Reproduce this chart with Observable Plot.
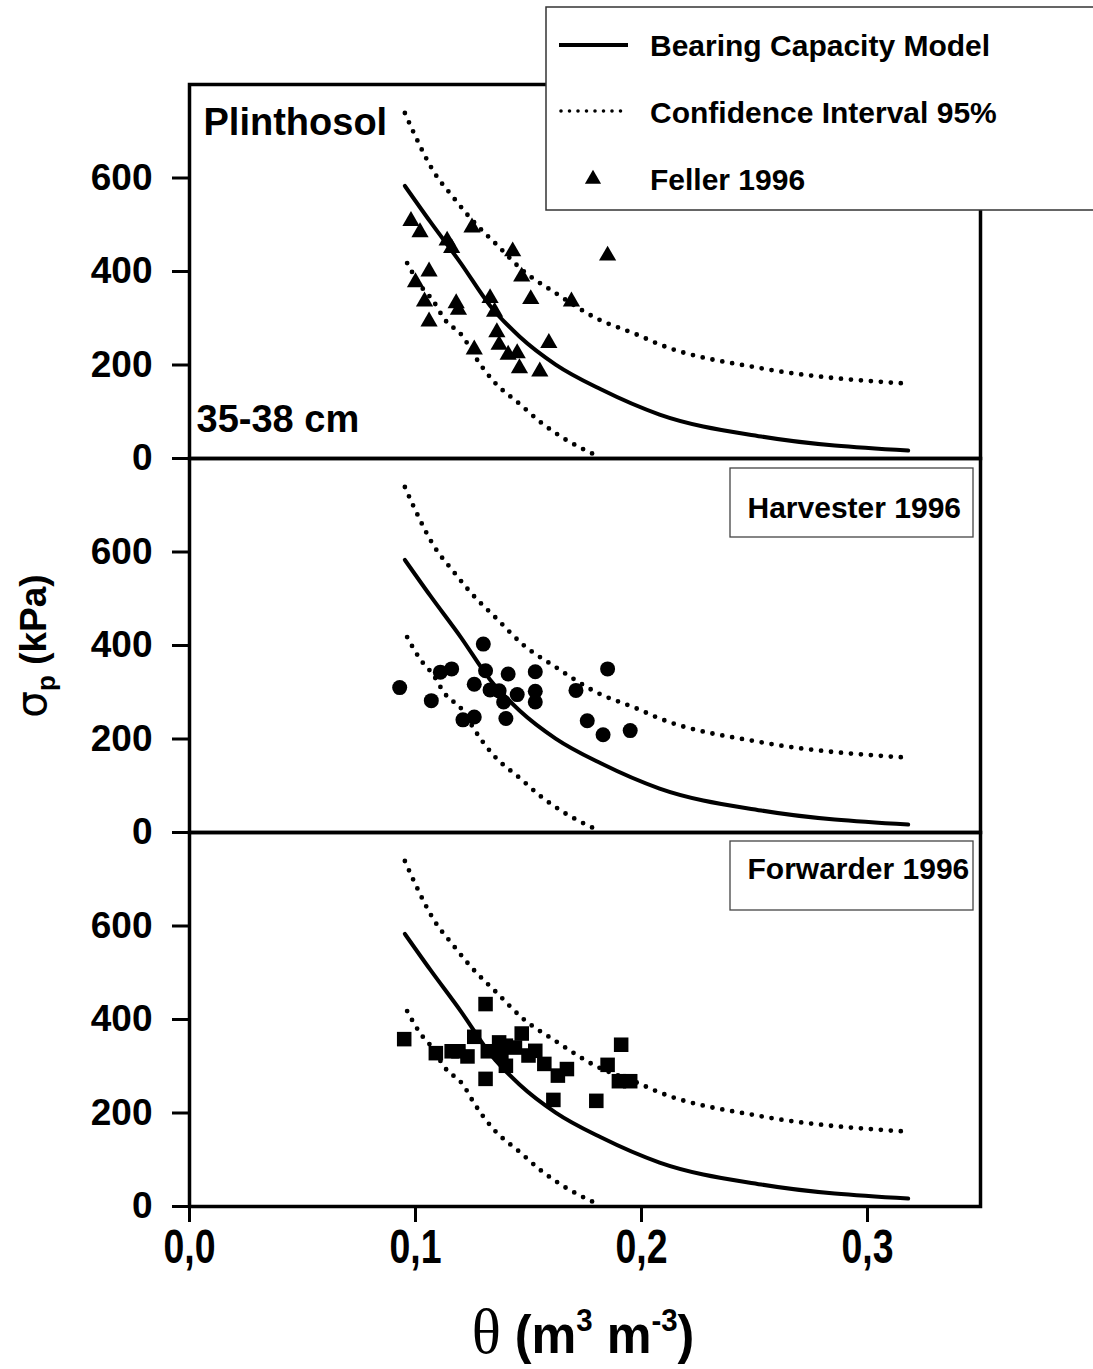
<!DOCTYPE html>
<html>
<head>
<meta charset="utf-8">
<script src="https://cdn.jsdelivr.net/npm/d3@7"></script>
<script src="https://cdn.jsdelivr.net/npm/@observablehq/plot@0.6"></script>
<style>
  body { margin: 0; background: #fff; }
  #fig { position: relative; width: 1093px; height: 1369px; }
</style>
</head>
<body>
<div id="fig"></div>
<script>
// Panels (one per traffic event), top to bottom
const panels = ["Feller 1996", "Harvester 1996", "Forwarder 1996"];

// Bearing capacity model: water content (m3 m-3) vs precompression stress (kPa)
const modelTheta = [0.0953, 0.1066, 0.12, 0.133, 0.146, 0.162, 0.182, 0.208, 0.253, 0.318];
const modelSigma = [583, 506, 418, 327, 261, 201, 148, 94, 47, 17];

// 95% confidence bounds
const upperTheta = [0.0953, 0.0993, 0.108, 0.117, 0.1243, 0.136, 0.148, 0.161, 0.180, 0.198, 0.208, 0.253, 0.318];
const upperSigma = [739, 696, 614, 557, 514, 457, 400, 357, 300, 265, 244, 193, 160];
const lowerTheta = [0.0963, 0.102, 0.108, 0.1125, 0.1214, 0.1258, 0.1344, 0.1465, 0.155, 0.1656, 0.1785];
const lowerSigma = [418, 371, 336, 300, 258, 222, 166, 115, 79, 43, 10];

// Measured samples after each machine pass
const fellerTheta = [0.098, 0.102, 0.114, 0.116, 0.125, 0.143, 0.185, 0.106, 0.100, 0.147, 0.104, 0.118, 0.119,
                     0.133, 0.135, 0.151, 0.169, 0.106, 0.136, 0.137, 0.159, 0.126, 0.141, 0.145, 0.146, 0.155];
const fellerSigma = [508, 484, 466, 450, 494, 443, 434, 400, 377, 389, 336, 332, 318,
                     343, 314, 341, 336, 293, 270, 243, 247, 233, 222, 225, 193, 186];

const harvesterTheta = [0.093, 0.107, 0.111, 0.116, 0.130, 0.131, 0.126, 0.133, 0.137, 0.139, 0.145, 0.141,
                        0.153, 0.153, 0.153, 0.140, 0.121, 0.126, 0.171, 0.185, 0.176, 0.183, 0.195];
const harvesterSigma = [310, 282, 343, 350, 403, 346, 317, 305, 303, 279, 295, 339,
                        344, 302, 279, 244, 241, 247, 304, 350, 239, 209, 218];

const forwarderTheta = [0.095, 0.109, 0.116, 0.119, 0.123, 0.126, 0.131, 0.132, 0.137, 0.140, 0.144, 0.138, 0.140,
                        0.147, 0.150, 0.153, 0.157, 0.163, 0.167, 0.131, 0.161, 0.180, 0.185, 0.191, 0.190, 0.195];
const forwarderSigma = [358, 328, 332, 332, 321, 363, 433, 332, 351, 344, 340, 326, 301,
                        370, 323, 333, 305, 280, 294, 273, 228, 226, 303, 346, 268, 268];

// Axis ticks
const xTicks = [0, 0.1, 0.2, 0.3];
const yTicks = [0, 200, 400, 600];

// Legend entries
const legendLabels = ["Bearing Capacity Model", "Confidence Interval 95%", "Feller 1996"];

const zip = (xs, ys, panel) => xs.map((t, i) => ({theta: t, sigma: ys[i], panel}));
const model = zip(modelTheta, modelSigma);
const upper = zip(upperTheta, upperSigma);
const lower = zip(lowerTheta, lowerSigma);
const feller = zip(fellerTheta, fellerSigma, panels[0]);
const harvester = zip(harvesterTheta, harvesterSigma, panels[1]);
const forwarder = zip(forwarderTheta, forwarderSigma, panels[2]);

const SANS = "'Liberation Sans', Arial, Helvetica, sans-serif";
const DOTS = "0 10";
const DOT_W = 4.8;
const dotted = {stroke: "black", strokeWidth: DOT_W, strokeDasharray: DOTS, strokeLinecap: "round", curve: "monotone-x"};
const tag = {fontWeight: "bold", lineAnchor: "middle"};

const plot = Plot.plot({
  width: 1093,
  height: 1369,
  marginTop: 83,
  marginBottom: 163,
  marginLeft: 189,
  marginRight: 113,
  style: {fontFamily: SANS, fontWeight: "bold", color: "black", background: "white"},
  x: {domain: [0, 0.35]},
  y: {domain: [0, 800]},
  fy: {domain: panels, padding: 0, axis: null, label: null},
  marks: [
    Plot.line(model, {x: "theta", y: "sigma", stroke: "black", strokeWidth: 4, curve: "monotone-x"}),
    Plot.line(upper, {x: "theta", y: "sigma", ...dotted}),
    Plot.line(lower, {x: "theta", y: "sigma", ...dotted}),
    Plot.dot(feller, {x: "theta", y: "sigma", fy: "panel", symbol: "triangle", r: 6.4, fill: "black"}),
    Plot.dot(harvester, {x: "theta", y: "sigma", fy: "panel", symbol: "circle", r: 7.5, fill: "black"}),
    Plot.dot(forwarder, {x: "theta", y: "sigma", fy: "panel", symbol: "square", r: 8.2, fill: "black"}),
    Plot.text([panels[0]], {fy: d => d, text: () => "Plinthosol", frameAnchor: "top-left", textAnchor: "start",
      dx: 14, dy: 38, fontSize: 38, ...tag}),
    Plot.text([panels[0]], {fy: d => d, text: () => "35-38 cm", frameAnchor: "bottom-left", textAnchor: "start",
      dx: 7, dy: -39, fontSize: 38, ...tag}),
    Plot.text([panels[1]], {fy: d => d, text: d => d, frameAnchor: "top-right", textAnchor: "start",
      dx: -233, dy: 50, fontSize: 30, ...tag}),
    Plot.text([panels[2]], {fy: d => d, text: d => d, frameAnchor: "top-right", textAnchor: "start",
      dx: -233, dy: 37, fontSize: 30, ...tag}),
    Plot.axisY({ticks: yTicks, tickSize: 17, tickPadding: 20, strokeWidth: 3, fontSize: 37, fontWeight: "bold", label: null}),
    Plot.axisX({ticks: xTicks, tickFormat: d => d.toFixed(1).replace(".", ","), tickSize: 16, tickPadding: 6,
      strokeWidth: 3, fontSize: 48, fontWeight: "bold", label: null}),
    Plot.frame({stroke: "black", strokeWidth: 3.5})
  ]
});

document.getElementById("fig").appendChild(plot);
const svg = d3.select(plot);
const xs = plot.scale("x"), fys = plot.scale("fy");
const frameRight = xs.apply(0.35);

// condensed look for the θ tick labels
svg.selectAll('g[aria-label="x-axis tick label"] text').each(function () {
  const t = d3.select(this);
  t.attr("transform", (t.attr("transform") || "") + " scale(0.78,1)");
});

// boxes around the machine tags
[[panels[1], 10], [panels[2], 9]].forEach(([p, off]) => {
  const top = fys.apply(p) + off;
  svg.append("rect")
    .attr("x", frameRight - 250).attr("y", top)
    .attr("width", 243).attr("height", 69)
    .attr("fill", "none").attr("stroke", "#444").attr("stroke-width", 1.3);
});

// y-axis title: σp (kPa)
const yl = svg.append("text")
  .attr("transform", "translate(46,646) rotate(-90)")
  .attr("text-anchor", "middle")
  .attr("font-family", SANS).attr("font-weight", "bold").attr("font-size", 37);
yl.append("tspan").attr("font-family", "'DejaVu Sans', sans-serif").attr("font-weight", "normal").attr("font-size", 42).text("σ");
yl.append("tspan").attr("font-size", 26).attr("dy", 9).text("p");
yl.append("tspan").attr("dy", -9).text(" (kPa)");

// x-axis title: θ (m³ m⁻³)
const xl = svg.append("text")
  .attr("transform", "translate(583,1353) scale(0.95,1)")
  .attr("text-anchor", "middle")
  .attr("font-family", SANS).attr("font-weight", "bold").attr("font-size", 53);
xl.append("tspan").attr("font-family", "'Liberation Serif', 'DejaVu Serif', serif").attr("font-weight", "normal").attr("font-size", 64).text("θ");
xl.append("tspan").text(" (m");
xl.append("tspan").attr("font-size", 31).attr("dy", -22).text("3");
xl.append("tspan").attr("dy", 22).text(" m");
xl.append("tspan").attr("font-size", 31).attr("dy", -22).text("-3");
xl.append("tspan").attr("dy", 22).text(")");

// legend, overlapping the upper-right corner
const lg = svg.append("g");
lg.append("rect").attr("x", 546).attr("y", 7).attr("width", 600).attr("height", 203)
  .attr("fill", "white").attr("stroke", "#333").attr("stroke-width", 1.5);
lg.append("line").attr("x1", 559).attr("x2", 628).attr("y1", 45).attr("y2", 45)
  .attr("stroke", "black").attr("stroke-width", 4);
lg.append("line").attr("x1", 561).attr("x2", 627).attr("y1", 111).attr("y2", 111)
  .attr("stroke", "black").attr("stroke-width", 3.6).attr("stroke-dasharray", "0 8.5").attr("stroke-linecap", "round");
lg.append("path").attr("transform", "translate(593,179)")
  .attr("d", d3.symbol(d3.symbolTriangle, Math.PI * 6 * 6)()).attr("fill", "black");
legendLabels.forEach((s, i) => {
  lg.append("text").attr("x", 650).attr("y", 56 + i * 67).attr("text-anchor", "start")
    .attr("font-family", SANS).attr("font-weight", "bold").attr("font-size", 30).text(s);
});
</script>
</body>
</html>
